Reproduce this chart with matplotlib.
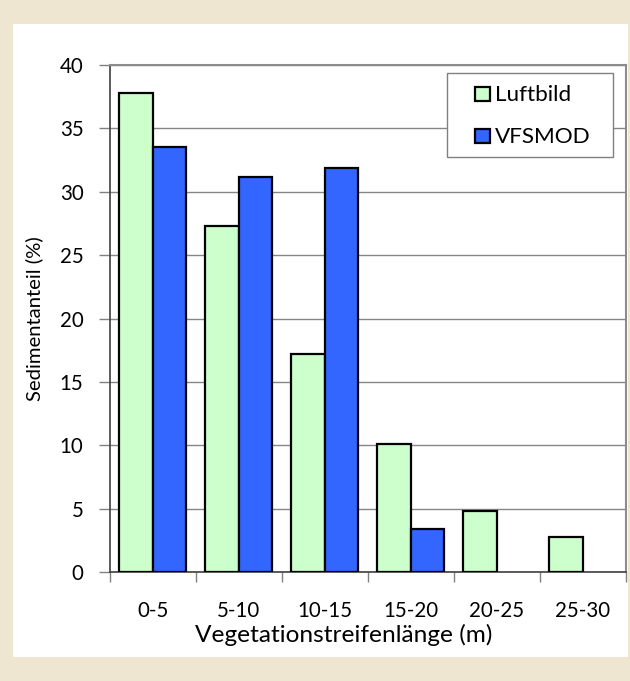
import matplotlib
matplotlib.use("Agg")
import matplotlib.pyplot as plt
from matplotlib.patches import Rectangle
import numpy as np

plt.rcParams['font.family'] = ['Lato', 'DejaVu Sans']

# Sediment share per vegetation strip length class
categories = ["0-5", "5-10", "10-15", "15-20", "20-25", "25-30"]
luftbild = [37.8, 27.3, 17.2, 10.1, 4.8, 2.8]
vfsmod = [33.5, 31.2, 31.9, 3.4, 0.0, 0.0]
series_names = ["Luftbild", "VFSMOD"]
series_colors = ["#CCFFCC", "#3366FF"]
y_ticks = [0, 5, 10, 15, 20, 25, 30, 35, 40]

W, H = 630, 681
fig = plt.figure(figsize=(W / 100, H / 100), dpi=100)
fig.patch.set_facecolor("#EEE6D0")

# white inner panel
fig.patches.append(Rectangle((13 / W, 1 - 656.5 / H), 615 / W, 632.5 / H,
                             transform=fig.transFigure, facecolor="white",
                             edgecolor="none", zorder=-10))

ax_l, ax_r, ax_t, ax_b = 110, 625.7, 65, 572.3
ax = fig.add_axes([ax_l / W, 1 - ax_b / H, (ax_r - ax_l) / W, (ax_b - ax_t) / H])
ax.set_facecolor("white")

x = np.arange(len(categories))
bw = 0.39
for vals, off, col in [(luftbild, -0.195, series_colors[0]),
                       (vfsmod, 0.195, series_colors[1])]:
    v = np.array(vals)
    m = v > 0
    ax.bar(x[m] + off, v[m], width=bw, color=col, edgecolor="black",
           linewidth=1.6, zorder=3)

ax.set_xlim(-0.5, len(categories) - 0.5)
ax.set_ylim(0, 40)
ax.set_yticks(y_ticks)
ax.set_yticklabels([str(t) for t in y_ticks], fontsize=14.8)
ax.yaxis.grid(True, color="#868686", linewidth=1.0)
ax.set_axisbelow(True)

# category boundary ticks, labels at category centres
ax.set_xticks(np.arange(len(categories) + 1) - 0.5)
ax.set_xticklabels([])
ax.set_xticks(x, minor=True)
ax.set_xticklabels(categories, minor=True, fontsize=14.8)
ax.tick_params(axis="x", which="major", length=7, width=1, color="#808080",
               direction="out")
ax.tick_params(axis="x", which="minor", length=0, pad=21)
ax.tick_params(axis="y", length=8, width=1, color="#808080", direction="out",
               pad=11)

for s in ["left", "bottom"]:
    ax.spines[s].set_color("#404040")
    ax.spines[s].set_linewidth(1.2)
for s in ["top", "right"]:
    ax.spines[s].set_color("#8C8C8C")
    ax.spines[s].set_linewidth(1.5)

ax.set_xlabel("Vegetationstreifenlänge (m)", fontsize=17.6, va="center")
ax.xaxis.set_label_coords(0.453, -0.1236)
ax.set_ylabel("Sedimentanteil (%)", fontsize=14.6, va="center")
ax.yaxis.set_label_coords(-0.1464, 0.5)

# legend box
def fx(px):
    return (px - ax_l) / (ax_r - ax_l)

def fy(py):
    return (ax_b - py) / (ax_b - ax_t)

ax.add_patch(Rectangle((fx(446.7), fy(157)), fx(613) - fx(446.7), fy(72.7) - fy(157),
                       transform=ax.transAxes, facecolor="white",
                       edgecolor="#808080", linewidth=1.0, zorder=5, clip_on=False))
for name, col, cy in zip(series_names, series_colors, [94, 136]):
    ax.add_patch(Rectangle((fx(475.5), fy(cy + 7)), fx(490) - fx(475.5),
                           fy(cy - 7) - fy(cy + 7), transform=ax.transAxes,
                           facecolor=col, edgecolor="black", linewidth=1.6,
                           zorder=6, clip_on=False))
    ax.text(fx(495), fy(cy - 1), name, transform=ax.transAxes, fontsize=16.2,
            va="center_baseline", ha="left", zorder=7)

fig.savefig("out.png", dpi=100, facecolor=fig.get_facecolor())
